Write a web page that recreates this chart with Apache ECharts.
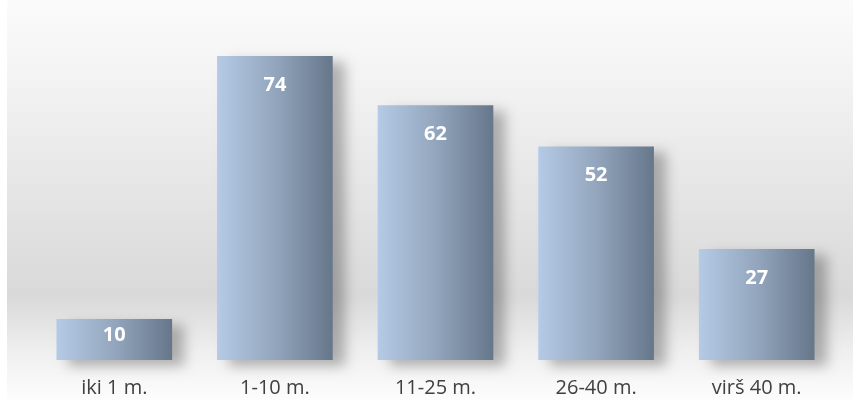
<!DOCTYPE html>
<html>
<head>
<meta charset="utf-8">
<script src="https://cdn.jsdelivr.net/npm/echarts@6/dist/echarts.min.js"></script>
<style>
html,body{margin:0;padding:0;background:#ffffff;}
#chart{width:853px;height:400px;}
</style>
</head>
<body>
<div id="chart"></div>
<script>
const categories = ['iki 1 m.', '1-10 m.', '11-25 m.', '26-40 m.', 'virš 40 m.'];
const values = [10, 74, 62, 52, 27];

const chart = echarts.init(document.getElementById('chart'), null, {renderer: 'canvas'});

const barGradient = new echarts.graphic.LinearGradient(0, 0, 1, 0, [
  {offset: 0, color: '#b5cae6'},
  {offset: 0.5, color: '#93a6bd'},
  {offset: 1, color: '#66778a'}
]);

chart.setOption({
  animation: false,
  backgroundColor: '#ffffff',
  graphic: [{
    type: 'rect',
    z: -10,
    silent: true,
    shape: {x: 7, y: 0, width: 846, height: 400},
    style: {
      fill: new echarts.graphic.LinearGradient(0, 0, 0, 1, [
        {offset: 0, color: '#fbfbfb'},
        {offset: 0.2, color: '#f3f3f3'},
        {offset: 0.5, color: '#e4e4e4'},
        {offset: 0.74, color: '#d9d9d9'},
        {offset: 0.88, color: '#efefef'},
        {offset: 1, color: '#fdfdfd'}
      ])
    }
  }],
  grid: {left: 34, right: 16, top: 31.4, bottom: 40, containLabel: false},
  xAxis: {
    type: 'category',
    data: categories,
    axisLine: {show: false},
    axisTick: {show: false},
    axisLabel: {
      color: '#404040',
      fontFamily: 'Open Sans',
      fontSize: 20,
      margin: 18
    }
  },
  yAxis: {
    type: 'value',
    min: 0,
    max: 80,
    show: false,
    splitLine: {show: false}
  },
  series: [{
    type: 'bar',
    data: values.map((v, i) => ({
      value: v,
      label: {distance: i === 0 ? 6 : 19}
    })),
    barCategoryGap: '28%',
    itemStyle: {
      color: barGradient,
      shadowColor: 'rgba(0,0,0,0.28)',
      shadowBlur: 12,
      shadowOffsetX: 12,
      shadowOffsetY: 6
    },
    label: {
      show: true,
      position: 'insideTop',
      color: '#ffffff',
      fontFamily: 'Open Sans',
      fontWeight: 'bold',
      fontSize: 20
    }
  }]
});
</script>
</body>
</html>
